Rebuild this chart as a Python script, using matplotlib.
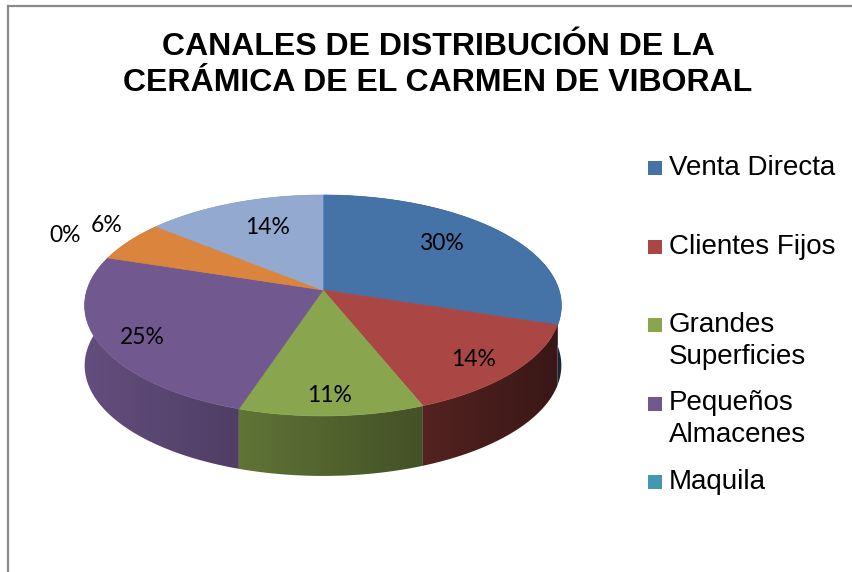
import numpy as np
import matplotlib
matplotlib.use("Agg")
import matplotlib.pyplot as plt
from matplotlib.patches import Polygon, Rectangle
from matplotlib.colors import to_rgb

# ---- data ----
categories = ["Venta Directa", "Clientes Fijos", "Grandes\nSuperficies",
              "Pequeños\nAlmacenes", "Maquila", "", ""]
values = [30, 14, 11, 25, 0, 6, 14]
pct_labels = ["30%", "14%", "11%", "25%", "0%", "6%", "14%"]
legend_count = 5  # legend in the reference shows only the first five entries
title = "CANALES DE DISTRIBUCIÓN DE LA\nCERÁMICA DE EL CARMEN DE VIBORAL"

# ---- style / layout ----
colors = ["#4572A7", "#AA4643", "#89A54E", "#71588F", "#4198AF", "#DB843D", "#93A9CF"]
label_pos = [(441, 243), (474, 360), (330, 395), (142, 337), (65, 235), (107, 225), (268, 228)]
W, H = 853, 572
CX, CY = 323.0, 290.0
A, B, P = 236.0, 108.3, 0.14
DEPTH = 60.0

fig = plt.figure(figsize=(W / 100, H / 100), dpi=100)
ax = fig.add_axes([0, 0, 1, 1])
ax.set_xlim(0, W)
ax.set_ylim(H, 0)
ax.axis("off")


def proj(theta_deg, r=1.0, dz=0.0):
    t = np.radians(theta_deg)
    u = r * np.sin(t)
    v = r * np.cos(t)
    d = 1 + P * v
    return CX + A * u / d, CY - B * v / d + dz


def shade(x):
    return np.clip(0.88 - 0.55 * (x - 85) / 477, 0.3, 0.95)


total = float(sum(values))
angles = np.concatenate([[0], np.cumsum(values) / total * 360.0])

# sides: one polygon per slice filled with a horizontal shading gradient
sides = []
for i, val in enumerate(values):
    if val <= 0:
        continue
    a0, a1 = angles[i], angles[i + 1]
    th = np.linspace(a0, a1, max(3, int((a1 - a0) * 2)))
    top = [proj(t) for t in th]
    bot = [(x, y + DEPTH) for x, y in top][::-1]
    pts = np.array(top + bot)
    key = np.cos(np.radians((a0 + a1) / 2))
    sides.append((key, i, pts))

sides.sort(key=lambda s: -s[0])
for _, i, pts in sides:
    rgb = np.array(to_rgb(colors[i]))
    x0, x1 = pts[:, 0].min() - 2, pts[:, 0].max() + 2
    y0, y1 = pts[:, 1].min() - 2, pts[:, 1].max() + 2
    xs = np.linspace(x0, x1, 200)
    img = np.clip(shade(xs)[None, :, None] * rgb[None, None, :], 0, 1)
    img = np.repeat(img, 2, axis=0)
    poly = Polygon(pts, closed=True, facecolor="none", edgecolor="none")
    ax.add_patch(poly)
    im = ax.imshow(img, extent=(x0, x1, y1, y0), aspect="auto", interpolation="bilinear", zorder=1)
    im.set_clip_path(poly)

# tops
for i, val in enumerate(values):
    if val <= 0:
        continue
    a0, a1 = angles[i], angles[i + 1]
    th = np.linspace(a0, a1, max(3, int((a1 - a0) * 2)))
    pts = [(CX, CY)] + [proj(t) for t in th]
    ax.add_patch(Polygon(pts, closed=True, facecolor=colors[i], edgecolor=colors[i],
                         lw=0.5, zorder=2))

ax.set_xlim(0, W)
ax.set_ylim(H, 0)

# slice labels
for i, lab in enumerate(pct_labels):
    x, y = label_pos[i]
    ax.text(x, y, lab, ha="center", va="center", fontsize=16.5,
            family=["Lato", "DejaVu Sans"], color="black", zorder=5)

# title
ax.text(438, 65, title, ha="center", va="center", fontsize=23, fontweight="bold",
        family=["Liberation Sans", "DejaVu Sans"], linespacing=1.25, zorder=5)

# legend
leg_x, leg_y0, leg_step = 648, 168, 78.5
for i in range(legend_count):
    y = leg_y0 + i * leg_step
    ax.add_patch(Rectangle((leg_x, y - 7), 14, 14, facecolor=colors[i], edgecolor="none", zorder=5))
    ax.text(leg_x + 21, y - 13, categories[i], ha="left", va="top", fontsize=20,
            family=["Liberation Sans", "DejaVu Sans"], linespacing=1.3, zorder=5)

# chart border (partly outside the image)
ax.plot([8.5, 8.5], [H, 5.5], color="#8A8A8A", lw=1.6, solid_capstyle="projecting", zorder=6)
ax.plot([8.5, W], [5.5, 5.5], color="#8A8A8A", lw=1.6, solid_capstyle="projecting", zorder=6)

fig.savefig("out.png", dpi=100)
